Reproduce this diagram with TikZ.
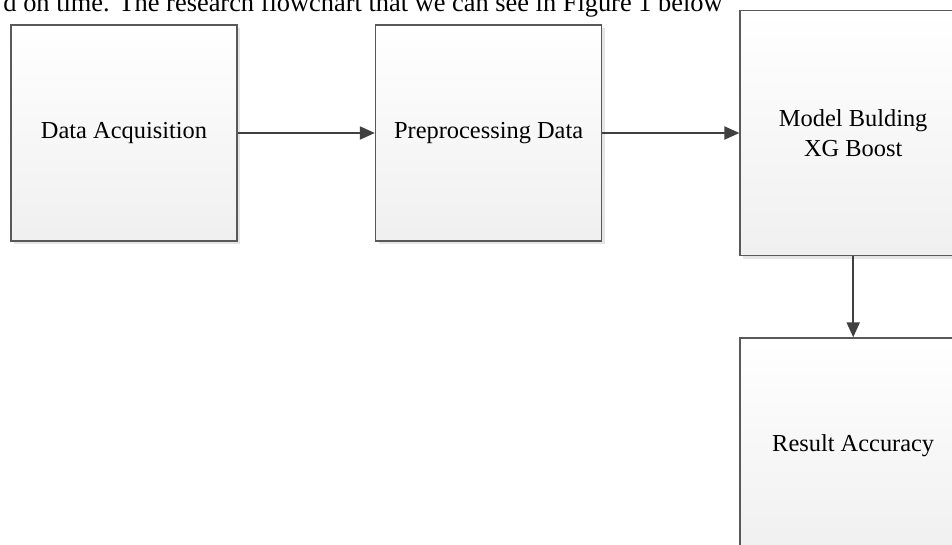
\documentclass[tikz,border=0pt]{standalone}
\usepackage{fontspec}
\setmainfont{Liberation Serif}
\usepackage{tikz}
\usetikzlibrary{
    arrows.meta,
    positioning,
    shadows
}
\definecolor{edgegray}{HTML}{595959}
\definecolor{arrowgray}{HTML}{404040}
\tikzset{
    % flowchart block with soft gradient and offset shadow
    block/.style={
        draw=edgegray, line width=0.8pt,
        shading=axis, top color=white, bottom color=black!6,
        drop shadow={shadow xshift=1.6pt, shadow yshift=-1.6pt,
            fill=black!10, opacity=1},
        minimum width=113pt, minimum height=108pt,
        align=center, inner sep=0pt,
        font=\fontsize{12.2}{15}\selectfont
    },
    tall/.style={minimum height=122.5pt},
    flow/.style={
        draw=arrowgray, line width=1pt,
        -{Triangle[length=7.5pt, width=6.5pt]}
    }
}

\begin{document}
\begin{tikzpicture}[x=0.5pt, y=-0.5pt, node distance=68.5pt]
    \useasboundingbox (0,0) rectangle (952,545);
    \clip (0,0) rectangle (952,545);
    \fill[white] (0,0) rectangle (952,545);
    % leftover line of the page above the figure
    \node[anchor=base east, inner sep=0pt, font=\fontsize{13.2}{15}\selectfont]
        (caption) at (723,12) {d on time. The research flowchart that we can see in Figure 1 below};
    \node[block] (acq) at (124,133) {Data Acquisition};
    \node[block, right=of acq] (prep) {Preprocessing Data};
    \node[block, tall, right=of prep] (model) {Model Bulding\\XG Boost};
    \node[block, below=40.5pt of model] (result) {Result Accuracy};
    \begin{scope}
        \draw[flow] (acq) -- (prep);
        \draw[flow] (prep) -- (model);
        \draw[flow] (model) -- (result);
    \end{scope}
\end{tikzpicture}
\end{document}
